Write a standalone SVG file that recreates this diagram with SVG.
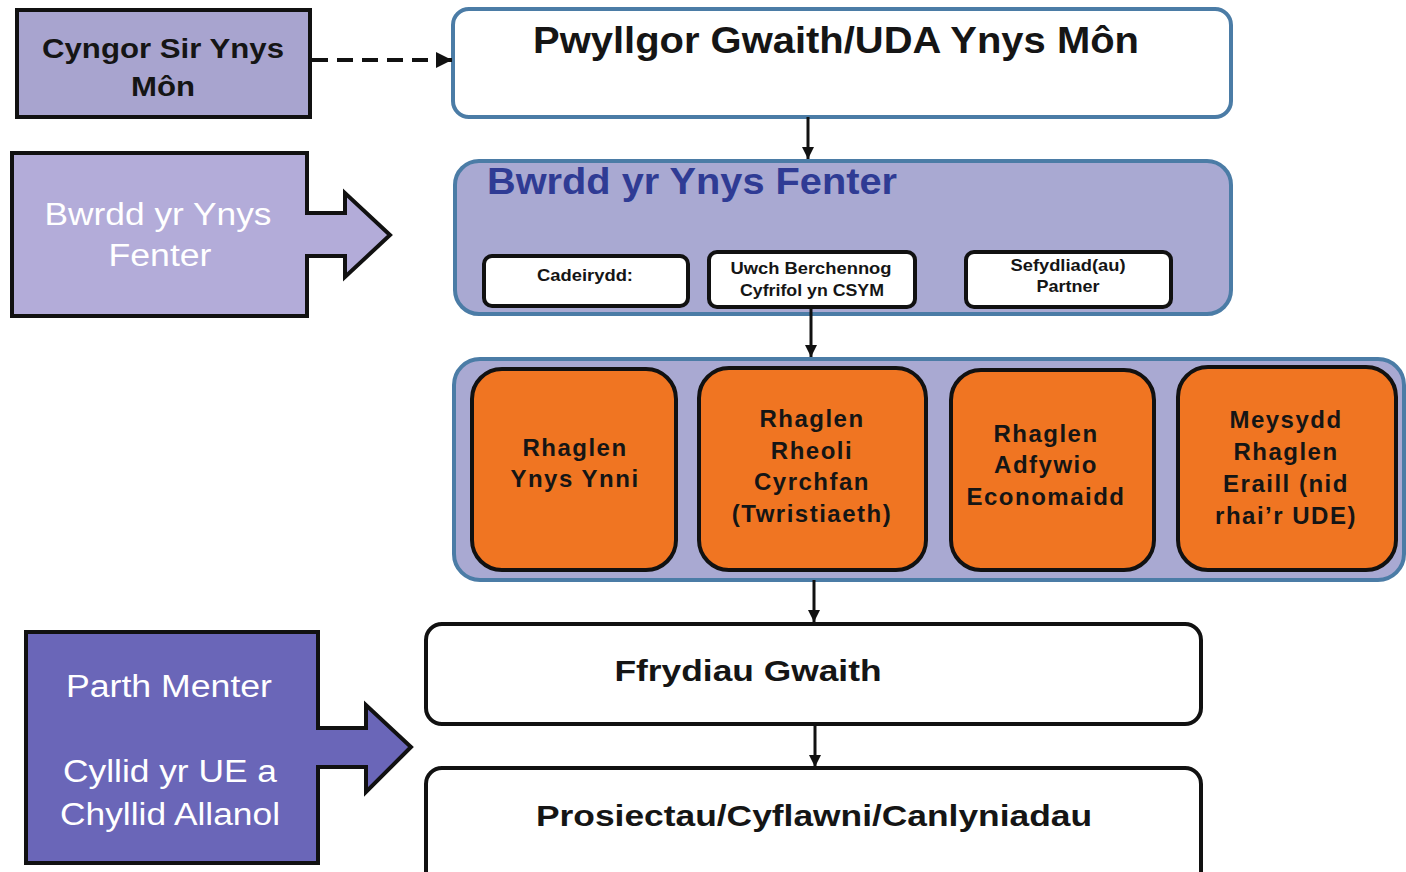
<svg xmlns="http://www.w3.org/2000/svg" width="1406" height="872" viewBox="0 0 1406 872">
<defs>
<marker id="ah" viewBox="0 0 10 10" refX="10" refY="5" markerWidth="4" markerHeight="4" orient="auto" markerUnits="strokeWidth">
<path d="M0,0 L10,5 L0,10 Z" fill="#111"/>
</marker>
<style>
.t{font-family:"Liberation Sans",Arial,sans-serif;text-anchor:middle}
.b{font-weight:bold}
.blk{fill:#151515}
.wh{fill:#ffffff}
.org{fill:#f07522;stroke:#111;stroke-width:4}
.sub{fill:#ffffff;stroke:#111;stroke-width:4}
.panel{fill:#a9a9d2;stroke:#4b7ca6;stroke-width:4}
.con{stroke:#111;stroke-width:3;fill:none}
.ot{font-size:24px;letter-spacing:1.5px}
</style>
</defs>
<rect width="1406" height="872" fill="#ffffff"/>

<g id="cyngor">
<rect x="17" y="10" width="293" height="107" fill="#a8a4cf" stroke="#111" stroke-width="4"/>
<text class="t b blk" x="163" y="58" font-size="27" textLength="242" lengthAdjust="spacingAndGlyphs">Cyngor Sir Ynys</text>
<text class="t b blk" x="163" y="96" font-size="27" textLength="64" lengthAdjust="spacingAndGlyphs">Môn</text>
</g>

<g id="bwrdd-left">
<path d="M12,153 H307 V213 H345 V193 L390,235 L345,277 V256 H307 V316 H12 Z" fill="#b3acd9" stroke="#111" stroke-width="4" stroke-linejoin="miter"/>
<text class="t wh" x="158" y="225" font-size="31" textLength="227" lengthAdjust="spacingAndGlyphs">Bwrdd yr Ynys</text>
<text class="t wh" x="160" y="266" font-size="31" textLength="103" lengthAdjust="spacingAndGlyphs">Fenter</text>
</g>

<g id="parth">
<path d="M26,632 H318 V728 H366 V705 L411,747 L366,792 V767 H318 V863 H26 Z" fill="#6a66b8" stroke="#111" stroke-width="4"/>
<text class="t wh" x="169" y="697" font-size="31" textLength="206" lengthAdjust="spacingAndGlyphs">Parth Menter</text>
<text class="t wh" x="170" y="782" font-size="31" textLength="214" lengthAdjust="spacingAndGlyphs">Cyllid yr UE a</text>
<text class="t wh" x="170" y="825" font-size="31" textLength="220" lengthAdjust="spacingAndGlyphs">Chyllid Allanol</text>
</g>

<g id="pwyllgor">
<rect x="453" y="9" width="778" height="108" rx="16" fill="#ffffff" stroke="#4b7ca6" stroke-width="4"/>
<text class="t b blk" x="836" y="53" font-size="36" textLength="606" lengthAdjust="spacingAndGlyphs">Pwyllgor Gwaith/UDA Ynys Môn</text>
</g>

<g id="bwrdd">
<rect x="455" y="161" width="776" height="153" rx="24" class="panel"/>
<text class="b" x="487" y="194" font-size="36" fill="#2f3b94" font-family="Liberation Sans, Arial, sans-serif" textLength="410" lengthAdjust="spacingAndGlyphs">Bwrdd yr Ynys Fenter</text>
</g>

<g id="cadeirydd">
<rect x="484" y="256" width="204" height="50" rx="8" class="sub"/>
<text class="t b blk" x="585" y="281" font-size="16.5" textLength="96" lengthAdjust="spacingAndGlyphs">Cadeirydd:</text>
</g>
<g id="uwch">
<rect x="709" y="252" width="206" height="55" rx="8" class="sub"/>
<text class="t b blk" x="811" y="274" font-size="16.5" textLength="161" lengthAdjust="spacingAndGlyphs">Uwch Berchennog</text>
<text class="t b blk" x="812" y="296" font-size="16.5" textLength="144" lengthAdjust="spacingAndGlyphs">Cyfrifol yn CSYM</text>
</g>
<g id="sefydliad">
<rect x="966" y="252" width="205" height="55" rx="8" class="sub"/>
<text class="t b blk" x="1068" y="271" font-size="16.5" textLength="115" lengthAdjust="spacingAndGlyphs">Sefydliad(au)</text>
<text class="t b blk" x="1068" y="292" font-size="16.5" textLength="63" lengthAdjust="spacingAndGlyphs">Partner</text>
</g>

<g id="rhaglenni">
<rect x="454" y="359" width="950" height="221" rx="26" class="panel"/>
</g>
<g id="ynys-ynni">
<rect x="472" y="369" width="204" height="201" rx="30" class="org"/>
<text class="t b blk ot" x="575" y="456">Rhaglen</text>
<text class="t b blk ot" x="575" y="487">Ynys Ynni</text>
</g>
<g id="cyrchfan">
<rect x="699" y="368" width="227" height="202" rx="30" class="org"/>
<text class="t b blk ot" x="812" y="427">Rhaglen</text>
<text class="t b blk ot" x="812" y="459">Rheoli</text>
<text class="t b blk ot" x="812" y="490">Cyrchfan</text>
<text class="t b blk ot" x="812" y="522">(Twristiaeth)</text>
</g>
<g id="adfywio">
<rect x="951" y="370" width="203" height="200" rx="30" class="org"/>
<text class="t b blk ot" x="1046" y="442">Rhaglen</text>
<text class="t b blk ot" x="1046" y="473">Adfywio</text>
<text class="t b blk ot" x="1046" y="505">Economaidd</text>
</g>
<g id="eraill">
<rect x="1178" y="367" width="218" height="203" rx="30" class="org"/>
<text class="t b blk ot" x="1286" y="428">Meysydd</text>
<text class="t b blk ot" x="1286" y="460">Rhaglen</text>
<text class="t b blk ot" x="1286" y="492">Eraill (nid</text>
<text class="t b blk ot" x="1286" y="524">rhai’r UDE)</text>
</g>

<g id="ffrydiau">
<rect x="426" y="624" width="775" height="100" rx="16" fill="#ffffff" stroke="#111" stroke-width="4"/>
<text class="t b blk" x="748" y="681" font-size="30" textLength="267" lengthAdjust="spacingAndGlyphs">Ffrydiau Gwaith</text>
</g>

<g id="prosiectau">
<rect x="426" y="768" width="775" height="120" rx="16" fill="#ffffff" stroke="#111" stroke-width="4"/>
<text class="t b blk" x="814" y="826" font-size="30" textLength="556" lengthAdjust="spacingAndGlyphs">Prosiectau/Cyflawni/Canlyniadau</text>
</g>

<g id="connectors">
<line x1="312" y1="60" x2="452" y2="60" stroke="#111" stroke-width="4" stroke-dasharray="16 9" marker-end="url(#ah)"/>
<line class="con" x1="808" y1="117" x2="808" y2="159" marker-end="url(#ah)"/>
<line class="con" x1="811" y1="307" x2="811" y2="357" marker-end="url(#ah)"/>
<line class="con" x1="814" y1="580" x2="814" y2="622" marker-end="url(#ah)"/>
<line class="con" x1="815" y1="724" x2="815" y2="767" marker-end="url(#ah)"/>
</g>
</svg>
